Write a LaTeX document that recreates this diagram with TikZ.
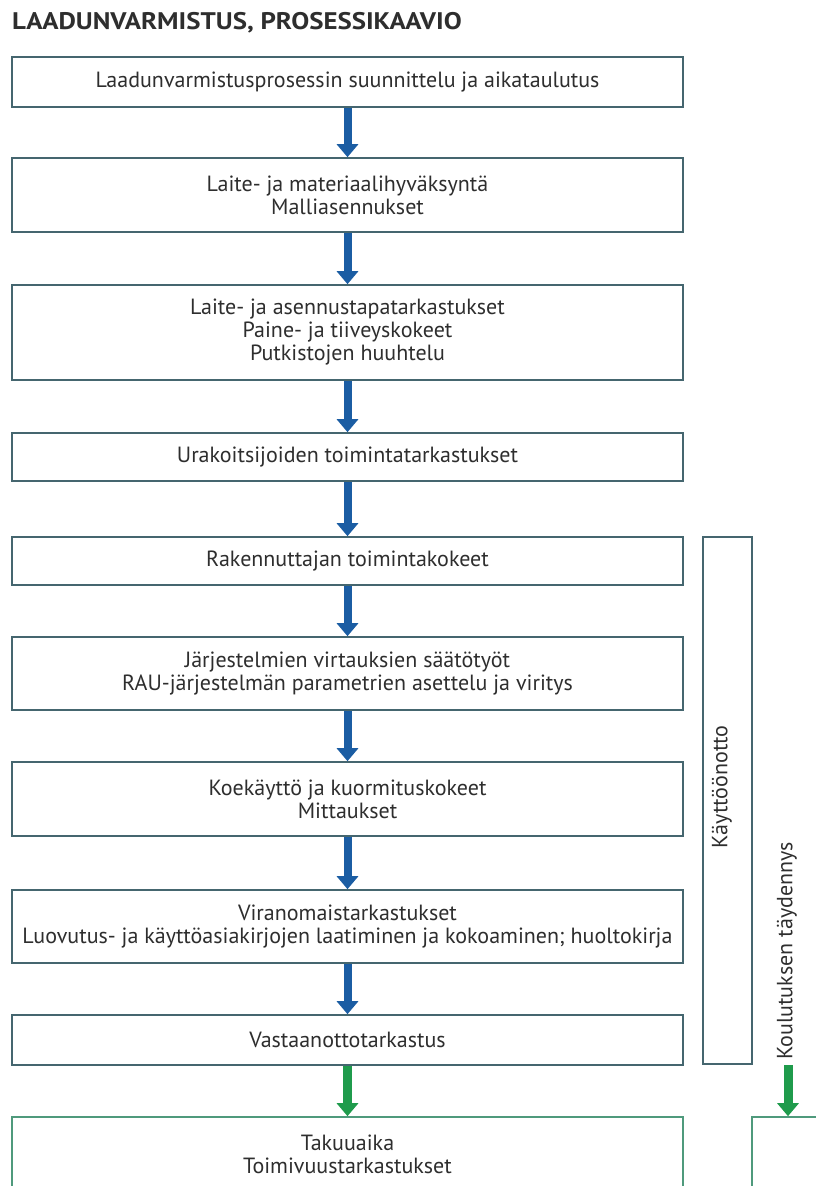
\documentclass[tikz,border=0pt]{standalone}
\usepackage{fontspec}
\setmainfont{PT Sans}
\newfontfamily\titlefont[FakeStretch=1.12]{PT Sans}
\usetikzlibrary{arrows.meta}
\definecolor{boxc}{HTML}{45666F}
\definecolor{gboxc}{HTML}{4F9A7C}
\definecolor{arrb}{HTML}{1B5DA3}
\definecolor{arrg}{HTML}{1F9B4C}
\definecolor{txtc}{HTML}{2E2E2E}
\tikzset{
  mainbox/.style={draw=boxc, line width=1.6pt, fill=white, minimum width=671pt, inner sep=0pt,
    align=center, font=\fontsize{22}{23}\selectfont, text=txtc},
  gbox/.style={mainbox, draw=gboxc},
  barrow/.style={draw=arrb, line width=8pt, -{Triangle[width=21pt,length=13pt]}},
  garrow/.style={draw=arrg, line width=9pt, -{Triangle[width=21pt,length=13pt]}},
  sidetext/.style={rotate=90, font=\fontsize{22}{23}\selectfont, text=txtc, inner sep=0pt},
}
\begin{document}
\begin{tikzpicture}[x=1pt,y=-1pt]
\useasboundingbox (0,0) rectangle (816,1186);
\clip (0,0) rectangle (816,1186);
\node[anchor=base west, inner sep=0pt, font=\titlefont\fontsize{24}{26}\selectfont\bfseries, text=txtc] (title) at (12,29) {LAADUNVARMISTUS, PROSESSIKAAVIO};

\node[mainbox, minimum height=50pt] (b1) at (347.5,82) {Laadunvarmistusprosessin suunnittelu ja aikataulutus};
\node[mainbox, minimum height=74pt] (b2) at (347.5,195) {Laite- ja materiaalihyväksyntä\\Malliasennukset};
\node[mainbox, minimum height=95pt] (b3) at (347.5,332.5) {Laite- ja asennustapatarkastukset\\Paine- ja tiiveyskokeet\\Putkistojen huuhtelu};
\node[mainbox, minimum height=48pt] (b4) at (347.5,457) {Urakoitsijoiden toimintatarkastukset};
\node[mainbox, minimum height=48pt] (b5) at (347.5,561) {Rakennuttajan toimintakokeet};
\node[mainbox, minimum height=73pt] (b6) at (347.5,673.5) {Järjestelmien virtauksien säätötyöt\\RAU-järjestelmän parametrien asettelu ja viritys};
\node[mainbox, minimum height=74pt] (b7) at (347.5,799) {Koekäyttö ja kuormituskokeet\\Mittaukset};
\node[mainbox, minimum height=73pt] (b8) at (347.5,926.5) {Viranomaistarkastukset\\Luovutus- ja käyttöasiakirjojen laatiminen ja kokoaminen; huoltokirja};
\node[mainbox, minimum height=50pt] (b9) at (347.5,1040) {Vastaanottotarkastus};
\node[gbox, minimum height=74pt] (b10) at (347.5,1154) {Takuuaika\\Toimivuustarkastukset};

\node[draw=boxc, line width=1.6pt, minimum width=49pt, minimum height=527pt, inner sep=0pt] (kbox) at (727.5,800.5) {};
\node[sidetext] (ktext) at (722,787) {Käyttöönotto};
\node[draw=gboxc, line width=1.6pt, minimum width=80pt, minimum height=74pt, inner sep=0pt] (b10b) at (792,1154) {};
\node[sidetext, anchor=west] (kouluttext) at (787,1060) {Koulutuksen täydennys};
\coordinate (gstart) at (788,1065);

\draw[barrow] (b1.south) -- (b2.north);
\draw[barrow] (b2.south) -- (b3.north);
\draw[barrow] (b3.south) -- (b4.north);
\draw[barrow] (b4.south) -- (b5.north);
\draw[barrow] (b5.south) -- (b6.north);
\draw[barrow] (b6.south) -- (b7.north);
\draw[barrow] (b7.south) -- (b8.north);
\draw[barrow] (b8.south) -- (b9.north);
\draw[garrow] (b9.south) -- (b10.north);
\draw[garrow] (gstart) -- (gstart |- b10b.north);
\end{tikzpicture}
\end{document}
